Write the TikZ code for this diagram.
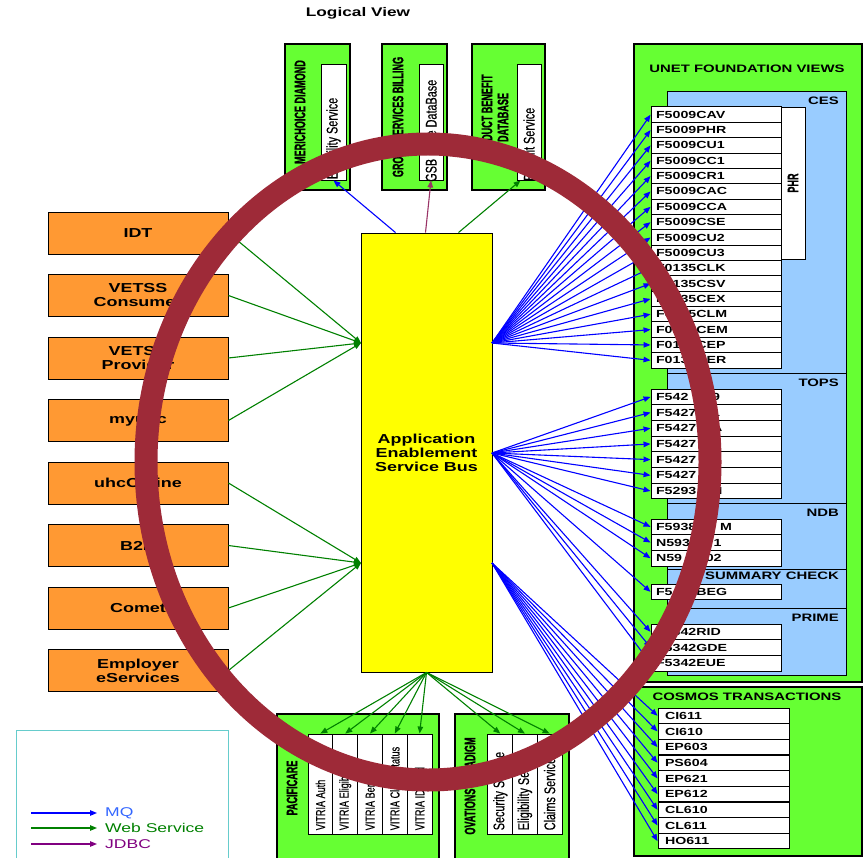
\documentclass[tikz,border=0pt]{standalone}
\usepackage{fontspec}
\setmainfont{Liberation Sans}[FakeStretch=1.38]
\newfontfamily\condfont{Liberation Sans}[FakeStretch=0.6, BoldFeatures={FakeBold=1}]
\newfontfamily\slotfont{Liberation Sans}[FakeStretch=0.7, FakeBold=0.4]
\usetikzlibrary{arrows.meta, positioning}
\definecolor{viewgreen}{HTML}{66FF33}
\definecolor{viewblue}{HTML}{99CCFF}
\definecolor{srcorange}{HTML}{FF9933}
\definecolor{busyellow}{HTML}{FFFF00}
\definecolor{mqblue}{HTML}{0000FF}
\definecolor{mqlabel}{HTML}{3366FF}
\definecolor{wsgreen}{HTML}{008000}
\definecolor{jdbcpurple}{HTML}{800080}
\definecolor{jdbcmauve}{HTML}{993366}
\definecolor{legendteal}{HTML}{66CCCC}
\definecolor{ringred}{HTML}{9E2A38}

\begin{document}
\begin{tikzpicture}[
    x=1pt, y=-1pt,
    >={Triangle[length=7pt, width=5.5pt]},
    srcbox/.style={draw, line width=0.9pt, fill=srcorange, minimum width=180pt, minimum height=42pt, inner sep=0pt, align=center, font=\fontsize{13}{14}\selectfont\bfseries},
    panel/.style={draw, line width=1.2pt, fill=viewgreen, inner sep=0pt},
    subpanel/.style={draw, line width=0.9pt, fill=viewblue, inner sep=0pt, minimum width=179pt},
    slot/.style={draw, line width=0.9pt, fill=white, inner sep=0pt},
    coderow/.style={draw, line width=0.9pt, fill=white, minimum height=15.5pt, text width=120pt, inner xsep=5pt, inner ysep=0pt, align=left, font=\fontsize{10.3}{12}\selectfont\bfseries},
    viewlabel/.style={inner sep=0pt, font=\fontsize{10.8}{12}\selectfont\bfseries},
    sidelabel/.style={rotate=90, inner sep=0pt, align=center, font=\condfont\fontsize{15.1}{16}\selectfont\bfseries},
    slotlabel/.style={rotate=90, inner sep=0pt, font=\slotfont\fontsize{#1}{16}\selectfont},
    lgtext/.style={inner xsep=8pt, inner ysep=0pt, font=\fontsize{12.7}{14}\selectfont},
    mq/.style={->, draw=mqblue, line width=1.1pt},
    ws/.style={->, draw=wsgreen, line width=1.1pt},
    jdbc/.style={->, draw=#1, line width=1.1pt}, jdbc/.default=jdbcpurple
  ]
    \useasboundingbox (0,0) rectangle (867,858);

    \node[font=\fontsize{12.5}{14}\selectfont\bfseries] (title) at (358,13) {Logical View};

    % consumers on the left
    \node[srcbox] (idt) at (138,233) {IDT};
    \node[srcbox, below=19.6pt of idt] (vetssc) {VETSS\\Consumer};
    \node[srcbox, below=19.6pt of vetssc] (vetssp) {VETSS\\Provider};
    \node[srcbox, below=19.6pt of vetssp] (myuhc) {myuhc};
    \node[srcbox, below=19.6pt of myuhc] (uhconline) {uhcOnline};
    \node[srcbox, below=19.6pt of uhconline] (btob) {B2B};
    \node[srcbox, below=19.6pt of btob] (comet) {Comet};
    \node[srcbox, below=19.6pt of comet] (employer) {Employer\\eServices};

    % the bus
    \node[draw, line width=0.9pt, fill=busyellow, minimum width=131pt, minimum height=439pt, align=center, font=\fontsize{13}{14}\selectfont\bfseries] (bus) at (426.5,452.5) {Application\\Enablement\\Service Bus};
    \coordinate (wsA) at (361,343);
    \coordinate (wsB) at (361,563);
    \coordinate (mqA) at (492,343);
    \coordinate (mqB) at (492,453);
    \coordinate (mqC) at (492,563);

    % top systems
    \node[panel, minimum width=65pt, minimum height=146pt] (amc) at (317.5,117) {};
    \node[slot, minimum width=25pt, minimum height=116pt] (amcin) at (333.5,122) {};
    \node[sidelabel, anchor=east] (amclabel) at (300,60) {MERICHOICE DIAMOND};
    \node[slotlabel=15.5, anchor=east] at ([yshift=-34pt]amcin.north) {Eligibility Service};

    \node[panel, minimum width=65pt, minimum height=146pt] (gsb) at (414.5,117) {};
    \node[slot, minimum width=24pt, minimum height=116pt] (gsbin) at (431,122) {};
    \node[sidelabel] (gsblabel) at (398,117) {GROUP SERVICES BILLING};
    \node[slotlabel=15.5, anchor=east] at ([yshift=-16pt]gsbin.north) {GSB\hspace{20pt}le DataBase};

    \node[panel, minimum width=73pt, minimum height=146pt] (pbd) at (508.5,117) {};
    \node[slot, minimum width=24pt, minimum height=116pt] (pbdin) at (529,122) {};
    \node[sidelabel] (pbdlabel) at (495,117.5) {PRODUCT BENEFIT\\DATABASE};
    \node[slotlabel=15.5, anchor=east] at ([yshift=-44pt]pbdin.north) {Benefit Service};

    % UNET foundation views
    \node[panel, minimum width=228pt, minimum height=638pt] (unet) at (748,363) {};
    \node[viewlabel] (unetlabel) at (747,69) {UNET FOUNDATION VIEWS};
    \node[subpanel, minimum height=282pt] (ces) at (756.5,232) {};
    \node[subpanel, minimum height=130pt] (tops) at (756.5,438) {};
    \node[subpanel, minimum height=66pt] (ndb) at (756.5,536) {};
    \node[subpanel, minimum height=39pt] (sumchk) at (756.5,588.5) {};
    \node[subpanel, minimum height=67pt] (prime) at (756.5,641.5) {};
    \node[viewlabel, anchor=east] at (839,101) {CES};
    \node[viewlabel, anchor=east] at (839,383) {TOPS};
    \node[viewlabel, anchor=east] at (839,513) {NDB};
    \node[viewlabel, anchor=east] at (839,576) {SUMMARY CHECK};
    \node[viewlabel, anchor=east] at (839,618) {PRIME};
    \node[slot, minimum width=24pt, minimum height=152pt] (phr) at (793,183) {};
    \node[sidelabel] at (phr) {PHR};

    \foreach \code [count=\i from 0] in {F5009CAV, F5009PHR, F5009CU1, F5009CC1, F5009CR1, F5009CAC, F5009CCA, F5009CSE, F5009CU2, F5009CU3, F0135CLK, F0135CSV, F0135CEX, F0135CLM, F0135CEM, F0135CEP, F0135CER}
      \node[coderow] (ces\i) at (716,114.7+15.35*\i) {\code};
    \foreach \code [count=\i from 0] in {F542\phantom{000}9, F5427\phantom{00}1, F5427\phantom{00}A, F5427, F5427, F5427, F5293\phantom{00}H}
      \node[coderow] (tops\i) at (716,396.85+15.7*\i) {\code};
    \foreach \code [count=\i from 0] in {F5938\phantom{000}M, N593\phantom{000}1, N59\phantom{000}02}
      \node[coderow] (ndb\i) at (716,526.85+15.7*\i) {\code};
    \node[coderow] (sumrow) at (716,591.85) {F5\phantom{000}BEG};
    \foreach \code [count=\i from 0] in {F5342RID, F5342GDE, F5342EUE}
      \node[coderow] (prime\i) at (716,631.85+15.7*\i) {\code};

    % COSMOS
    \node[panel, minimum width=228pt, minimum height=169pt] (cosmos) at (748,771.5) {};
    \node[viewlabel] (cosmoslabel) at (747,697) {COSMOS TRANSACTIONS};
    \foreach \code [count=\i from 0] in {CI611, CI610, EP603, PS604, EP621, EP612, CL610, CL611, HO611}
      \node[coderow, inner xsep=7pt, text width=117pt] (cos\i) at (723.5,715.8+15.67*\i) {\code};

    % bottom systems
    \node[panel, minimum width=162pt, minimum height=160pt] (pacificare) at (358,794) {};
    \node[sidelabel] at (292,788) {PACIFICARE};
    \foreach \t [count=\i] in {VITRIA Auth, VITRIA Eligibility, VITRIA Benefits, VITRIA Claim Status, VITRIA ID Card} {
      \node[slot, minimum width=24.8pt, minimum height=100pt] (pc\i) at (295.6+24.8*\i,784) {};
      \node[slotlabel=13, anchor=west] at ([yshift=4pt]pc\i.south) {\t};
    }
    \node[panel, minimum width=114pt, minimum height=160pt] (ovations) at (512,794) {};
    \node[sidelabel] at (470,786) {OVATIONS PARADIGM};
    \foreach \t [count=\i] in {Security Service, Eligibility Service, Claims Service} {
      \node[slot, minimum width=24.67pt, minimum height=100pt] (ov\i) at (475.6+24.67*\i,784) {};
      \node[slotlabel=15.5, anchor=west] at ([yshift=4pt]ov\i.south) {\t};
    }

    % legend
    \node[draw=legendteal, line width=1pt, minimum width=212pt, minimum height=140pt, inner sep=0pt] (legend) at (122,800) {};
    \node[lgtext, anchor=west, text=mqlabel] (lgmq) at (97,813) {MQ};
    \node[lgtext, anchor=west, text=wsgreen] (lgws) at (97,828) {Web Service};
    \node[lgtext, anchor=west, text=jdbcpurple] (lgjdbc) at (97,844) {JDBC};
    \coordinate (lgmqtail) at (31,813);
    \coordinate (lgwstail) at (31,828);
    \coordinate (lgjdbctail) at (31,844);
    \draw[mq] (lgmqtail) -- (lgmq.west);
    \draw[ws] (lgwstail) -- (lgws.west);
    \draw[jdbc] (lgjdbctail) -- (lgjdbc.west);

    % connections
    \foreach \src in {idt, vetssc, vetssp, myuhc}
      \draw[ws] (\src.east) -- (wsA);
    \foreach \src in {uhconline, btob, comet, employer}
      \draw[ws] (\src.east) -- (wsB);
    \draw[mq] ([xshift=-31pt]bus.north) -- (amcin.south);
    \draw[jdbc=jdbcmauve] ([xshift=-1pt]bus.north) -- (gsbin.south);
    \draw[ws] ([xshift=32pt]bus.north) -- ([xshift=4pt]pbdin.south west);
    \foreach \i in {0,...,16}
      \draw[mq] (mqA) -- (ces\i.west);
    \foreach \i in {0,...,6}
      \draw[mq] (mqB) -- (tops\i.west);
    \foreach \i in {0,...,2}
      \draw[mq] (mqB) -- (ndb\i.west);
    \draw[mq] (mqB) -- (sumrow.west);
    \foreach \i in {0,...,2}
      \draw[mq] (mqB) -- (prime\i.west);
    \foreach \i in {0,...,8}
      \draw[mq] (mqC) -- (cos\i.west);
    \foreach \i in {1,...,5}
      \draw[ws] (bus.south) -- (pc\i.north);
    \foreach \i in {1,...,3}
      \draw[ws] (bus.south) -- (ov\i.north);

    % ring over everything
    \draw[ringred, line width=23pt] (428,462) ellipse [x radius=282pt, y radius=318pt];
\end{tikzpicture}
\end{document}
